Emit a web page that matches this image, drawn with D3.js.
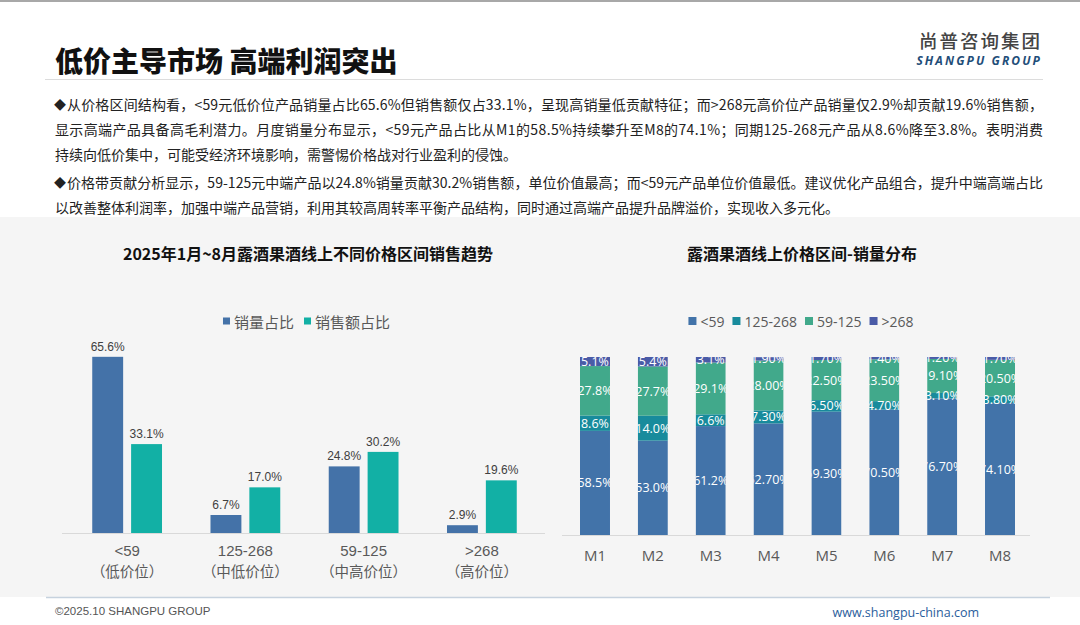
<!DOCTYPE html>
<html><head><meta charset="utf-8">
<script src="https://cdn.jsdelivr.net/npm/d3@7"></script>
<style>
html,body{margin:0;padding:0;background:#fff;}
svg{display:block;}
</style></head>
<body>
<svg id="c" width="1080" height="625"></svg>
<script>
// ---------- data ----------
const pageTitle = "低价主导市场 高端利润突出";
const logoCn = "尚普咨询集团";
const logoEn = "SHANGPU GROUP";
const para1 = [
  "从价格区间结构看，<59元低价位产品销量占比65.6%但销售额仅占33.1%，呈现高销量低贡献特征；而>268元高价位产品销量仅2.9%却贡献19.6%销售额，",
  "显示高端产品具备高毛利潜力。月度销量分布显示，<59元产品占比从M1的58.5%持续攀升至M8的74.1%；同期125-268元产品从8.6%降至3.8%。表明消费",
  "持续向低价集中，可能受经济环境影响，需警惕价格战对行业盈利的侵蚀。"
];
const para2 = [
  "价格带贡献分析显示，59-125元中端产品以24.8%销量贡献30.2%销售额，单位价值最高；而<59元产品单位价值最低。建议优化产品组合，提升中端高端占比",
  "以改善整体利润率，加强中端产品营销，利用其较高周转率平衡产品结构，同时通过高端产品提升品牌溢价，实现收入多元化。"
];

const leftTitle = "2025年1月~8月露酒果酒线上不同价格区间销售趋势";
const priceBands = ["<59", "125-268", "59-125", ">268"];
const priceBandNotes = ["（低价位）", "（中低价位）", "（中高价位）", "（高价位）"];
const leftSeries = ["销量占比", "销售额占比"];
const volumeShare = [65.6, 6.7, 24.8, 2.9];
const salesShare = [33.1, 17.0, 30.2, 19.6];

const rightTitle = "露酒果酒线上价格区间-销量分布";
const months = ["M1", "M2", "M3", "M4", "M5", "M6", "M7", "M8"];
const stackKeys = ["<59", "125-268", "59-125", ">268"];
const share59 = [58.5, 53.0, 61.2, 62.7, 69.3, 70.5, 76.7, 74.1];
const share125_268 = [8.6, 14.0, 6.6, 7.3, 6.5, 4.7, 3.1, 3.8];
const share59_125 = [27.8, 27.7, 29.1, 28.0, 22.5, 23.5, 19.1, 20.5];
const share268 = [5.1, 5.4, 3.1, 1.9, 1.7, 1.4, 1.2, 1.7];
const labelDecimals = [1, 1, 1, 2, 2, 2, 2, 2];

const footerLeft = "©2025.10 SHANGPU  GROUP";
const footerRight = "www.shangpu-china.com";

// ---------- styles ----------
const CJK = "'Noto Sans CJK SC','Noto Sans',sans-serif";
const ARIAL = "'Liberation Sans','Noto Sans CJK SC',Arial,sans-serif";
const RF = "'Open Sans','Noto Sans',sans-serif";
const leftColors = ["#4472a8", "#12b0a5"];
const rightColors = {"<59": "#4273a9", "125-268": "#188b9c", "59-125": "#41a98b", ">268": "#4a5ba7"};

const svg = d3.select("#c");

// top thin line
svg.append("rect").attr("x",0).attr("y",0).attr("width",1080).attr("height",2).attr("fill","#a8a8a8");

// title
svg.append("text").attr("x",55).attr("y",60).attr("dominant-baseline","central")
  .attr("font-family",CJK).attr("font-weight",900).attr("font-size",28).attr("fill","#111")
  .text(pageTitle);

// logo
svg.append("text").attr("x",1042).attr("y",40).attr("text-anchor","end").attr("dominant-baseline","central")
  .attr("font-family",CJK).attr("font-weight",500).attr("font-size",18.5).attr("fill","#444")
  .attr("letter-spacing",2).text(logoCn);
svg.append("text").attr("x",1042).attr("y",60.5).attr("text-anchor","end").attr("dominant-baseline","central")
  .attr("font-family","'Open Sans','DejaVu Sans',sans-serif").attr("font-style","italic").attr("font-weight",700)
  .attr("font-size",12).attr("fill","#1f4e79").attr("letter-spacing",2.1).text(logoEn);

// rule
svg.append("line").attr("x1",45).attr("x2",1043).attr("y1",79.5).attr("y2",79.5)
  .attr("stroke","#dcdcdc").attr("stroke-width",1.2);

// bullet paragraphs
const lines = [
  {t: para1[0], y:104, bullet:true, just:true},
  {t: para1[1], y:129, bullet:false, just:true},
  {t: para1[2], y:154, bullet:false, just:false},
  {t: para2[0], y:182, bullet:true, just:true},
  {t: para2[1], y:207, bullet:false, just:false}
];
const gText = svg.append("g").attr("font-family",CJK).attr("font-size",14).attr("fill","#222");
lines.forEach(l => {
  if (l.bullet) {
    gText.append("text").attr("x",54).attr("y",l.y).attr("dominant-baseline","central")
      .attr("font-size",12).text("◆");
  }
  const x0 = l.bullet ? 67 : 55;
  const t = gText.append("text").attr("x",x0).attr("y",l.y).attr("dominant-baseline","central").text(l.t);
  if (l.just) t.attr("textLength",1043 - x0).attr("lengthAdjust","spacing");
});

// panel background
svg.append("rect").attr("x",0).attr("y",217).attr("width",1080).attr("height",380).attr("fill","#f5f5f5");
svg.append("line").attr("x1",46).attr("x2",1050).attr("y1",597.5).attr("y2",597.5)
  .attr("stroke","#c6d2de").attr("stroke-width",1.5);

// legend helper
function legend(items, colors, cx, cy, fs, fam, gap, sq) {
  const g = svg.append("g");
  let x = 0;
  items.forEach((it, i) => {
    g.append("rect").attr("x",x).attr("y",cy - sq/2).attr("width",sq).attr("height",sq).attr("fill",colors[i]);
    const t = g.append("text").attr("x",x + sq + 4).attr("y",cy).attr("dominant-baseline","central")
      .attr("font-family",fam).attr("font-size",fs).attr("fill","#595959").text(it);
    x += sq + 4 + t.node().getComputedTextLength() + gap;
  });
  const w = x - gap;
  g.attr("transform",`translate(${cx - w/2},0)`);
}

// ---------- left chart ----------
svg.append("text").attr("x",308).attr("y",253).attr("text-anchor","middle").attr("dominant-baseline","central")
  .attr("font-family",CJK).attr("font-weight",700).attr("font-size",16).attr("fill","#111").text(leftTitle);
legend(leftSeries, leftColors, 306.5, 321, 15, CJK, 10, 7);

const x0 = d3.scaleBand().domain(priceBands).range([68, 541]).paddingInner(0.41).paddingOuter(0.205);
const x1 = d3.scaleBand().domain(leftSeries).range([0, x0.bandwidth()]).paddingInner(0.205);
const yL = d3.scaleLinear().domain([0, 70]).range([533, 345]);

const leftData = priceBands.map((b, i) => ({band: b, vals: [volumeShare[i], salesShare[i]]}));
const gl = svg.append("g");
const grp = gl.selectAll("g.grp").data(leftData).join("g").attr("class","grp")
  .attr("transform", d => `translate(${x0(d.band)},0)`);
grp.selectAll("rect").data(d => d.vals.map((v, j) => ({s: leftSeries[j], v, j})))
  .join("rect").attr("x", d => x1(d.s)).attr("width", x1.bandwidth())
  .attr("y", d => yL(d.v)).attr("height", d => yL(0) - yL(d.v)).attr("fill", d => leftColors[d.j]);
grp.selectAll("text.val").data(d => d.vals.map((v, j) => ({s: leftSeries[j], v, j})))
  .join("text").attr("class","val").attr("x", d => x1(d.s) + x1.bandwidth()/2).attr("y", d => yL(d.v) - 6)
  .attr("text-anchor","middle").attr("font-family",ARIAL).attr("font-size",12).attr("fill","#404040")
  .text(d => d.v.toFixed(1) + "%");

gl.append("line").attr("x1",62).attr("x2",545).attr("y1",yL(0)+0.5).attr("y2",yL(0)+0.5).attr("stroke","#d9d9d9").attr("stroke-width",1);
const axL = gl.append("g").attr("transform",`translate(0,${yL(0) + 17})`)
  .call(d3.axisBottom(x0).tickSize(0).tickPadding(0));
axL.select(".domain").remove();
axL.selectAll("text").attr("dominant-baseline","central").attr("dy",null)
  .attr("font-family",ARIAL).attr("font-size",15).attr("fill","#595959");
priceBands.forEach((b, i) => {
  const cx = x0(b) + x0.bandwidth()/2;
  gl.append("text").attr("x",cx).attr("y",570).attr("text-anchor","middle").attr("dominant-baseline","central")
    .attr("font-family",CJK).attr("font-size",14.5).attr("fill","#595959").text(priceBandNotes[i]);
});

// ---------- right chart ----------
svg.append("text").attr("x",802).attr("y",253).attr("text-anchor","middle").attr("dominant-baseline","central")
  .attr("font-family",CJK).attr("font-weight",700).attr("font-size",16).attr("fill","#111").text(rightTitle);
legend(stackKeys, stackKeys.map(k => rightColors[k]), 801, 321, 14, RF, 8, 8);

const monthRows = months.map((m, i) => ({month: m, i,
  "<59": share59[i], "125-268": share125_268[i], "59-125": share59_125[i], ">268": share268[i]}));
const series = d3.stack().keys(stackKeys)(monthRows);
const xR = d3.scaleBand().domain(months).range([566, 1029]).paddingInner(0.48).paddingOuter(0.24);
const yR = d3.scaleLinear().domain([0, 100]).range([535, 357]);

const gr = svg.append("g");
const defs = svg.append("defs");
months.forEach((m, i) => {
  defs.append("clipPath").attr("id","clip" + i).append("rect")
    .attr("x", xR(m)).attr("width", xR.bandwidth()).attr("y", yR(100)).attr("height", yR(0) - yR(100));
});
series.forEach(s => {
  gr.append("g").attr("fill", rightColors[s.key]).selectAll("rect").data(s).join("rect")
    .attr("clip-path", d => `url(#clip${d.data.i})`)
    .attr("x", d => xR(d.data.month)).attr("width", xR.bandwidth())
    .attr("y", d => yR(d[1])).attr("height", d => yR(d[0]) - yR(d[1]));
});
series.forEach(s => {
  gr.append("g").selectAll("text").data(s).join("text")
    .attr("clip-path", d => `url(#clip${d.data.i})`)
    .attr("x", d => xR(d.data.month) + xR.bandwidth()/2)
    .attr("y", d => yR((d[0] + d[1]) / 2))
    .attr("text-anchor","middle").attr("dominant-baseline","central")
    .attr("font-family",RF).attr("font-size",12.5).attr("fill","#fff")
    .text(d => d.data[s.key].toFixed(labelDecimals[d.data.i]) + "%");
});
gr.append("line").attr("x1",562).attr("x2",1030).attr("y1",yR(0)+0.5).attr("y2",yR(0)+0.5).attr("stroke","#d9d9d9");
const axR = gr.append("g").attr("transform",`translate(0,${yR(0) + 12})`)
  .call(d3.axisBottom(xR).tickSize(0));
axR.select(".domain").remove();
axR.selectAll("text").attr("font-family",RF).attr("font-size",15).attr("fill","#595959");

// ---------- footer ----------
svg.append("text").attr("x",55).attr("y",611).attr("dominant-baseline","central")
  .attr("font-family",ARIAL).attr("font-size",11.5).attr("fill","#555").text(footerLeft);
svg.append("text").attr("x",979).attr("y",612).attr("text-anchor","end").attr("dominant-baseline","central")
  .attr("font-family",RF).attr("font-size",12.5).attr("fill","#2a5d9c").text(footerRight);
</script>
</body></html>
